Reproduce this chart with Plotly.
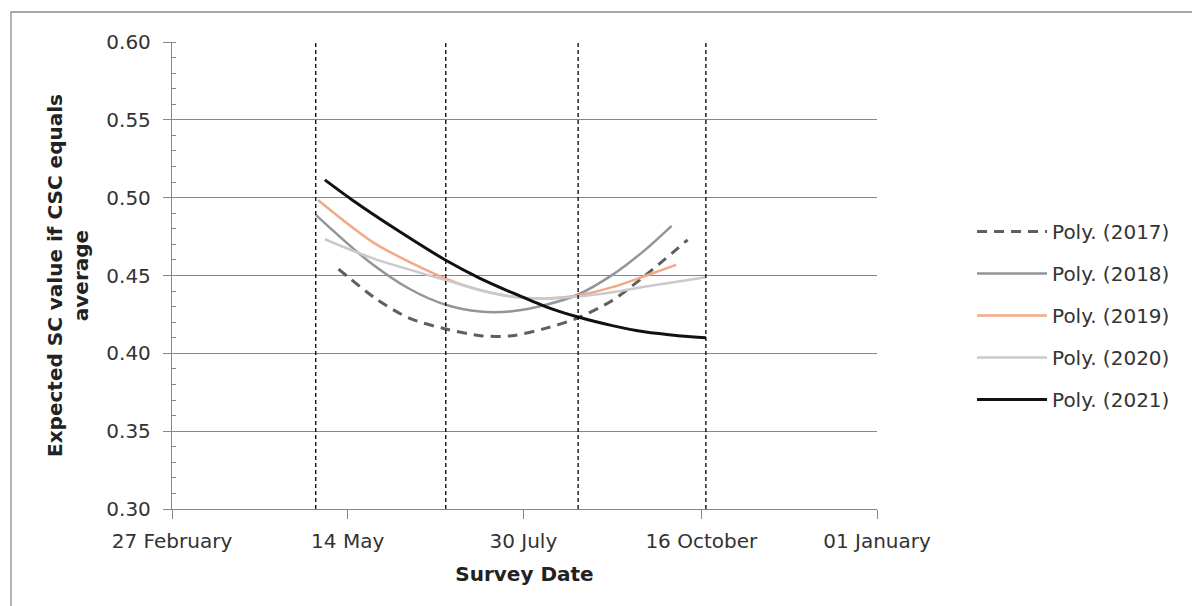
import plotly.graph_objects as go

# ---- data ----
tick_dates = ["2020-02-27", "2020-05-14", "2020-07-30", "2020-10-16", "2021-01-01"]
tick_labels = ["27 February", "14 May", "30 July", "16 October", "01 January"]

period_bounds = ["2020-04-30", "2020-06-26", "2020-08-23", "2020-10-18"]

dates_2017 = ["2020-05-10", "2020-05-27", "2020-06-10", "2020-06-26", "2020-07-12", "2020-07-25",
              "2020-08-09", "2020-08-23", "2020-09-07", "2020-09-21", "2020-10-10"]
vals_2017 = [0.4541, 0.4344, 0.4226, 0.4156, 0.4112, 0.4113, 0.4162, 0.4228, 0.4340, 0.4495, 0.4729]

dates_2018 = ["2020-04-30", "2020-05-22", "2020-06-10", "2020-06-26", "2020-07-11", "2020-07-25",
              "2020-08-09", "2020-08-23", "2020-09-07", "2020-09-21", "2020-10-03"]
vals_2018 = [0.4889, 0.4605, 0.4415, 0.4312, 0.4268, 0.4270, 0.4312, 0.4378, 0.4504, 0.4660, 0.4819]

dates_2019 = ["2020-05-01", "2020-05-26", "2020-06-26", "2020-07-10", "2020-07-25", "2020-08-09",
              "2020-08-23", "2020-09-07", "2020-09-21", "2020-10-05"]
vals_2019 = [0.4985, 0.4705, 0.4480, 0.4410, 0.4365, 0.4353, 0.4372, 0.4425, 0.4495, 0.4568]

dates_2020 = ["2020-05-04", "2020-05-26", "2020-06-26", "2020-07-11", "2020-07-25", "2020-08-09",
              "2020-08-23", "2020-09-07", "2020-09-21", "2020-10-18"]
vals_2020 = [0.4733, 0.4605, 0.4470, 0.4405, 0.4364, 0.4352, 0.4365, 0.4393, 0.4428, 0.4489]

dates_2021 = ["2020-05-04", "2020-05-16", "2020-06-03", "2020-06-26", "2020-07-11", "2020-07-25",
              "2020-08-09", "2020-08-23", "2020-09-07", "2020-09-21", "2020-10-07", "2020-10-18"]
vals_2021 = [0.5114, 0.4985, 0.4808, 0.4598, 0.4482, 0.4390, 0.4299, 0.4233, 0.4178, 0.4138, 0.4112, 0.4100]

series = [
    ("Poly. (2017)", dates_2017, vals_2017, "#5f5f5f", 3, "10px,7px"),
    ("Poly. (2018)", dates_2018, vals_2018, "#8f969c", 2.5, "solid"),
    ("Poly. (2019)", dates_2019, vals_2019, "#f2a987", 2.5, "solid"),
    ("Poly. (2020)", dates_2020, vals_2020, "#cacaca", 2.5, "solid"),
    ("Poly. (2021)", dates_2021, vals_2021, "#111111", 3, "solid"),
]

FONT = "DejaVu Sans"
FS = 20
AXIS_GRAY = "#878787"
TXT = "#333333"

fig = go.Figure()
for name, d, v, color, w, dash in series:
    fig.add_trace(go.Scatter(
        x=d, y=v, mode="lines", name=name, legendgroup=name,
        line=dict(color=color, width=w, dash=dash, shape="spline", smoothing=0.8),
    ))

for d in period_bounds:
    fig.add_shape(type="line", xref="x", yref="y", x0=d, x1=d, y0=0.30, y1=0.60,
                  line=dict(color="#000000", width=1.3, dash="4px,3px"), layer="above")

# outer chart frame
fig.add_shape(type="rect", xref="paper", yref="paper",
              x0=-0.2284, x1=1.48, y0=-0.25, y1=1.0642,
              line=dict(color="#8c8c8c", width=1.3), fillcolor="rgba(0,0,0,0)")

fig.update_layout(
    width=1192, height=598,
    margin=dict(l=164, r=323, t=34, b=97),
    paper_bgcolor="white", plot_bgcolor="white",
    font=dict(family=FONT, size=FS, color=TXT),
    showlegend=True,
    legend=dict(x=1.1348, y=0.636, xanchor="left", yanchor="top",
                font=dict(family=FONT, size=FS, color=TXT),
                itemwidth=70, tracegroupgap=13, bgcolor="rgba(0,0,0,0)"),
    xaxis=dict(
        type="date", range=["2020-02-27", "2021-01-01"],
        tickvals=tick_dates, ticktext=tick_labels,
        showgrid=False, zeroline=False,
        showline=True, linecolor=AXIS_GRAY, linewidth=1.3,
        ticks="outside", ticklen=9, tickcolor=AXIS_GRAY, tickwidth=1.3,
        ticklabelstandoff=5,
        tickfont=dict(family=FONT, size=FS, color=TXT),
        title=dict(text="<b>Survey Date</b>", font=dict(family=FONT, size=FS, color="#222222"), standoff=14),
    ),
    yaxis=dict(
        range=[0.30, 0.60], dtick=0.05, tickformat=".2f",
        showgrid=True, gridcolor=AXIS_GRAY, gridwidth=1.3, zeroline=False,
        showline=True, linecolor=AXIS_GRAY, linewidth=1.3,
        ticks="outside", ticklen=8, tickcolor=AXIS_GRAY, tickwidth=1.3,
        ticklabelstandoff=8,
        minor=dict(dtick=0.01, ticks="inside", ticklen=4, tickcolor=AXIS_GRAY, showgrid=False),
        tickfont=dict(family=FONT, size=FS, color=TXT),
        title=dict(text="<b>Expected SC value if CSC equals<br>average</b>",
                   font=dict(family=FONT, size=FS, color="#222222"), standoff=12),
    ),
)

fig.write_html("out.html")
